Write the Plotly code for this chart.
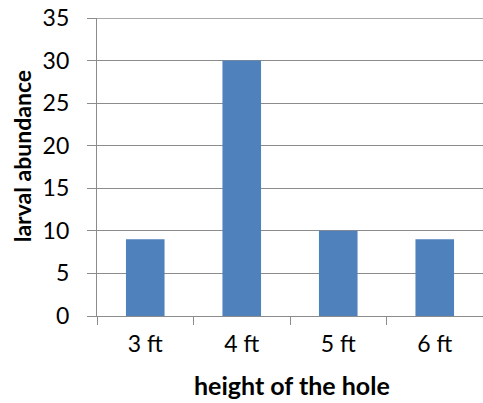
import plotly.graph_objects as go

categories = ["3 ft", "4 ft", "5 ft", "6 ft"]
values = [9, 30, 10, 9]
y_ticks = [0, 5, 10, 15, 20, 25, 30, 35]

FONT = "Lato, Carlito, Calibri, sans-serif"
GRID = "#8c8c8c"

fig = go.Figure(go.Bar(
    x=categories, y=values, width=0.4,
    marker=dict(color="#4f81bd", line=dict(width=0)),
))

fig.update_layout(
    width=483, height=403,
    margin=dict(l=97, r=0, t=18, b=87),
    paper_bgcolor="white", plot_bgcolor="white",
    font=dict(family=FONT, size=23, color="#000000"),
    showlegend=False,
    annotations=[
        dict(text="<b>larval abundance</b>", textangle=-90,
             xref="paper", yref="paper", x=0, y=0.536,
             xanchor="center", yanchor="middle", xshift=-75,
             showarrow=False, font=dict(size=23)),
        dict(text="<b>height of the hole</b>",
             xref="paper", yref="paper", x=0.505, y=-0.232,
             xanchor="center", yanchor="middle",
             showarrow=False, font=dict(size=25)),
    ],
    shapes=[
        dict(type="line", xref="paper", yref="y", x0=-9 / 386, x1=1,
             y0=y_ticks[-1], y1=y_ticks[-1], layer="below",
             line=dict(color=GRID, width=1.3)),
    ],
)
fig.update_xaxes(
    type="category", range=[-0.5, 3.5], automargin=False,
    showline=True, linecolor=GRID, linewidth=1.3,
    ticks="outside", tickson="boundaries", ticklen=8, tickcolor=GRID, tickwidth=1.3,
    showgrid=False,
    tickfont=dict(size=23),
    ticklabelstandoff=7,
)
fig.update_yaxes(
    range=[0, 35], tickvals=y_ticks, automargin=False,
    showline=True, linecolor=GRID, linewidth=1.3,
    ticks="outside", ticklen=9, tickcolor=GRID, tickwidth=1.3,
    showgrid=True, gridcolor=GRID, gridwidth=1.3,
    zeroline=False,
    tickfont=dict(size=23),
    ticklabelstandoff=13,
    ticklabeloverflow="allow",
)

fig.write_html(
    "out.html",
    config={"displayModeBar": False},
    post_script="document.body.style.margin='0';document.body.style.overflow='hidden';",
)
